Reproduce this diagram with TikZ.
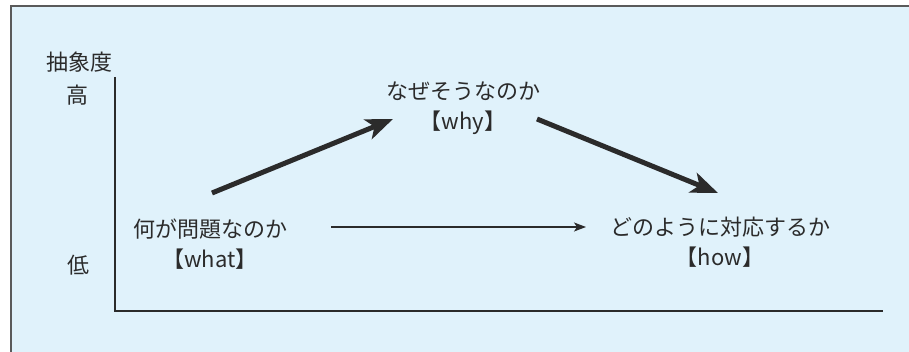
\documentclass[tikz,border=0pt]{standalone}
\usepackage{fontspec}
\setmainfont{Noto Sans CJK JP}
\usepackage{tikz}
\usetikzlibrary{arrows.meta, positioning}

\definecolor{bgblue}{HTML}{E0F2FB}
\definecolor{inkgray}{HTML}{2B2B2B}
\definecolor{framegray}{HTML}{5A5A5A}

\tikzset{
  label/.style={text=inkgray, font=\fontsize{22}{30}\selectfont, align=center, inner sep=0pt},
  bigarrow/.style={draw=inkgray, line width=5pt, -{Stealth[length=27pt, width=21pt, inset=7pt]}},
  thinarrow/.style={draw=inkgray, line width=1.3pt, -{Stealth[length=12pt, width=9pt, inset=3pt]}}
}

\begin{document}
\begin{tikzpicture}[x=1pt, y=-1pt]
        \useasboundingbox (0,0) rectangle (909,352);
        % Hintergrund und Rahmen
        \fill[bgblue] (11,6) rectangle (909,352);
        \draw[framegray, line width=1.3pt] (11,352) -- (11,6) -- (909,6);

        % Achsen
        \draw[inkgray, line width=1.2pt] (115,77) |- (883,311);
        \node[label] (axis) at (79,62) {抽象度};
        \node[label] (high) at (77,95) {高};
        \node[label] (low) at (78,265) {低};

        % Drei Stufen
        \node[label] (what) at (210,244) {何が問題なのか\\【what】};
        \node[label] (why) at (463,108) {なぜそうなのか\\【why】};
        \node[label] (how) at (720,242) {どのように対応するか\\【how】};

        % Pfeile
        \draw[bigarrow] ([shift={(2,-51)}]what.center) -- ([shift={(-70,11)}]why.center);
        \draw[bigarrow] ([shift={(74,11)}]why.center) -- ([shift={(-2,-49)}]how.center);
        \draw[thinarrow] ([shift={(121,-17)}]what.center) -- ([shift={(-134,-15)}]how.center);
      \end{tikzpicture}
\end{document}
